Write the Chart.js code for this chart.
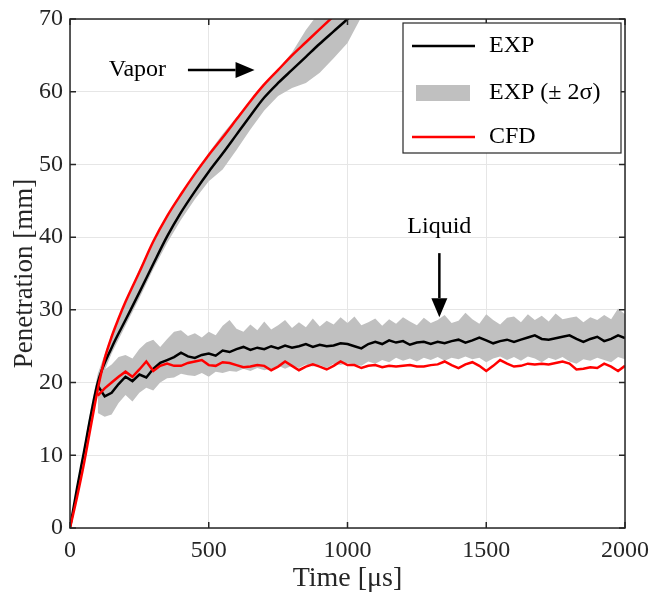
<!DOCTYPE html>
<html>
<head>
<meta charset="utf-8">
<script src="https://cdn.jsdelivr.net/npm/chart.js@4.4.0/dist/chart.umd.min.js"></script>
<style>
    html, body { margin: 0; padding: 0; background: #fff; }
    #wrap { width: 651px; height: 596px; }
</style>
</head>
<body>
<div id="wrap"><canvas id="chart" width="651" height="596"></canvas></div>
<script>
// vapor penetration, experiment (time in us, penetration in mm)
const vaporT = [0, 25, 50, 75, 100, 150, 200, 250, 300, 350, 400, 450, 500, 550, 600, 650, 700, 750, 800, 850, 900, 950, 1000, 1050];
const vaporExp = [0, 5.4, 10.4, 15.5, 20, 24.8, 28.6, 32.4, 36.3, 40.1, 43.4, 46.3, 49, 51.5, 54.1, 56.7, 59.2, 61.2, 63, 64.8, 66.6, 68.3, 70, 71.8];
const vaporExpHi = [0, 5.8, 11, 16.5, 21.2, 26.6, 31, 35.6, 39.4, 42.9, 46, 48.7, 51.6, 54.2, 56.5, 58.7, 60.9, 63.1, 65.4, 68.5, 71, 73, 75, 77];
const vaporExpLo = [0, 5, 9.9, 14.9, 19.3, 24, 27.8, 31.6, 35.6, 39.2, 42.4, 45.2, 47.7, 49.3, 52, 54.8, 57.4, 59.4, 60.5, 61.2, 62.6, 64.6, 66.7, 70.3];

// vapor penetration, CFD
const cfdVaporT = [0, 25, 50, 75, 105, 125, 150, 175, 200, 250, 300, 350, 400, 450, 500, 550, 600, 650, 700, 750, 800, 850, 900, 950, 1000];
const cfdVapor = [0, 4.2, 8.8, 14, 20, 23.3, 26.3, 28.8, 31.1, 35.2, 39.4, 42.9, 45.9, 48.7, 51.3, 53.7, 56.2, 58.7, 61, 63, 65, 66.8, 68.6, 70.4, 72.2];

// liquid penetration
const liquidT = [
    100, 125, 150, 175, 200, 225, 250, 275,
    300, 325, 350, 375, 400, 425, 450, 475,
    500, 525, 550, 575, 600, 625, 650, 675,
    700, 725, 750, 775, 800, 825, 850, 875,
    900, 925, 950, 975, 1000, 1025, 1050, 1075,
    1100, 1125, 1150, 1175, 1200, 1225, 1250, 1275,
    1300, 1325, 1350, 1375, 1400, 1425, 1450, 1475,
    1500, 1525, 1550, 1575, 1600, 1625, 1650, 1675,
    1700, 1725, 1750, 1775, 1800, 1825, 1850, 1875,
    1900, 1925, 1950, 1975, 2000
];
const liquidExp = [
    19.6, 18.1, 18.6, 19.8, 20.8, 20.2, 21.1, 20.7,
    21.9, 22.7, 23.1, 23.5, 24.1, 23.6, 23.4, 23.8,
    24.0, 23.7, 24.4, 24.2, 24.6, 24.9, 24.5, 24.8,
    24.6, 25.0, 24.7, 25.1, 24.8, 25.0, 25.3, 24.9,
    25.2, 25.0, 25.1, 25.4, 25.3, 25.0, 24.7, 25.3,
    25.6, 25.3, 25.8, 25.5, 25.7, 25.2, 25.5, 25.6,
    25.3, 25.6, 25.4, 25.7, 25.9, 25.5, 25.8, 26.2,
    25.8, 25.4, 25.7, 25.9, 25.6, 25.9, 26.2, 26.5,
    26.0, 25.9, 26.1, 26.3, 26.5, 26.0, 25.6, 26.0,
    26.3, 25.7, 26.0, 26.5, 26.1
];
const liquidCfd = [
    18.2, 19.2, 20.0, 20.8, 21.5, 20.8, 21.8, 22.9,
    21.6, 22.3, 22.6, 22.3, 22.3, 22.7, 22.9, 23.1,
    22.4, 22.3, 22.8, 22.7, 22.4, 22.1, 22.2, 22.4,
    22.3, 21.7, 22.2, 22.9, 22.3, 21.7, 22.2, 22.5,
    22.2, 21.8, 22.3, 22.9, 22.4, 22.4, 22.0, 22.3,
    22.4, 22.1, 22.3, 22.2, 22.3, 22.4, 22.2, 22.2,
    22.4, 22.5, 22.9, 22.4, 22.0, 22.5, 22.8, 22.3,
    21.6, 22.3, 23.1, 22.6, 22.2, 22.3, 22.6, 22.5,
    22.6, 22.5, 22.7, 22.9, 22.6, 21.8, 21.9, 22.1,
    22.0, 22.6, 22.2, 21.6, 22.3
];
const liquidExpHi = [
    20.5, 21.8, 22.5, 23.5, 23.8, 23.3, 24.6, 25.5,
    25.9, 24.9, 26.0, 27.0, 27.2, 26.4, 26.8, 26.2,
    27.0, 26.5, 27.8, 28.6, 27.4, 27.0, 28.0, 27.2,
    28.4, 27.3, 27.9, 28.6, 27.5, 28.3, 27.6, 28.8,
    27.7, 28.5, 28.0, 29.0, 28.2, 29.1, 27.9, 28.3,
    28.8, 27.8, 28.7, 28.1, 29.0, 28.4, 27.9, 28.9,
    28.2, 28.6, 29.3, 28.2, 28.5, 29.6, 28.7, 28.1,
    29.4, 28.6, 28.0, 28.9, 29.1, 28.3, 29.4, 28.6,
    29.2, 28.4, 29.5, 28.7, 28.9, 29.1, 28.3, 29.0,
    28.6, 29.3, 28.7, 30.2, 29.4
];
const liquidExpLo = [
    15.8, 15.3, 15.6, 17.2, 18.3, 17.4, 18.6, 19.3,
    18.9, 20.0, 20.6, 20.7, 21.2, 21.0, 20.9, 21.3,
    20.8, 21.5, 21.3, 21.6, 21.5, 21.9, 21.6, 22.0,
    21.7, 21.9, 22.3, 21.9, 22.3, 22.0, 22.5, 22.2,
    22.4, 22.0, 22.6, 22.4, 22.7, 22.5, 22.3, 22.9,
    22.6, 23.1, 22.8, 23.4, 23.0, 23.3, 22.9, 23.4,
    23.1, 23.5, 23.0, 23.4, 23.2, 23.6, 23.2, 23.4,
    22.8, 23.3, 23.6, 23.1, 23.5, 23.0, 23.6, 23.3,
    22.8, 23.4, 23.1, 23.5, 22.9, 22.6, 23.2, 23.0,
    23.4, 23.1, 22.8, 23.5, 23.2
];

const xTicks = [0, 500, 1000, 1500, 2000];
const yTicks = [0, 10, 20, 30, 40, 50, 60, 70];
const legendLabels = ['EXP', 'EXP (\u00b1 2\u03c3)', 'CFD'];

const BAND = 'rgb(192,192,192)';
const RED = '#ff0000';
const SERIF = "'Liberation Serif', 'Times New Roman', serif";

function pts(xs, ys) {
    return xs.map((x, i) => ({ x: x, y: ys[i] }));
}

// MATLAB-like box with inward ticks on all four sides
const boxPlugin = {
    id: 'box',
    afterDatasetsDraw(chart) {
        const { ctx, chartArea: a, scales } = chart;
        ctx.save();
        ctx.strokeStyle = '#262626';
        ctx.lineWidth = 1.5;
        ctx.strokeRect(a.left, a.top, a.right - a.left, a.bottom - a.top);
        ctx.beginPath();
        xTicks.forEach(v => {
            const px = scales.x.getPixelForValue(v);
            ctx.moveTo(px, a.bottom); ctx.lineTo(px, a.bottom - 6);
            ctx.moveTo(px, a.top); ctx.lineTo(px, a.top + 6);
        });
        yTicks.forEach(v => {
            const py = scales.y.getPixelForValue(v);
            ctx.moveTo(a.left, py); ctx.lineTo(a.left + 6, py);
            ctx.moveTo(a.right, py); ctx.lineTo(a.right - 6, py);
        });
        ctx.stroke();
        ctx.restore();
    }
};

// text labels with arrows, placed in data units
function arrow(ctx, x0, y0, x1, y1) {
    const ang = Math.atan2(y1 - y0, x1 - x0);
    const head = 19, half = 8;
    const bx = x1 - head * Math.cos(ang), by = y1 - head * Math.sin(ang);
    ctx.beginPath();
    ctx.moveTo(x0, y0);
    ctx.lineTo(bx, by);
    ctx.stroke();
    ctx.beginPath();
    ctx.moveTo(x1, y1);
    ctx.lineTo(bx + half * Math.sin(ang), by - half * Math.cos(ang));
    ctx.lineTo(bx - half * Math.sin(ang), by + half * Math.cos(ang));
    ctx.closePath();
    ctx.fill();
}

const notePlugin = {
    id: 'notes',
    afterDraw(chart) {
        const { ctx, scales } = chart;
        const X = v => scales.x.getPixelForValue(v);
        const Y = v => scales.y.getPixelForValue(v);
        ctx.save();
        ctx.fillStyle = '#000';
        ctx.strokeStyle = '#000';
        ctx.lineWidth = 2.5;
        ctx.font = '24px ' + SERIF;
        ctx.textAlign = 'center';
        ctx.textBaseline = 'middle';
        ctx.fillText('Vapor', X(243), Y(63));
        arrow(ctx, X(425), Y(63), X(665), Y(63));
        ctx.fillText('Liquid', X(1331), Y(41.4));
        arrow(ctx, X(1331), Y(37.8), X(1331), Y(29));

        // legend box in the upper right corner
        const a = chart.chartArea;
        const bx = a.right - 222, by = a.top + 4, bw = 218, bh = 130;
        ctx.fillStyle = '#fff';
        ctx.fillRect(bx, by, bw, bh);
        ctx.lineWidth = 1.2;
        ctx.strokeStyle = '#262626';
        ctx.strokeRect(bx, by, bw, bh);
        const rows = [by + 23, by + 70, by + 114];
        ctx.lineWidth = 2.5;
        ctx.strokeStyle = '#000';
        ctx.beginPath(); ctx.moveTo(bx + 9, rows[0]); ctx.lineTo(bx + 72, rows[0]); ctx.stroke();
        ctx.fillStyle = BAND;
        ctx.fillRect(bx + 13, rows[1] - 8, 54, 16);
        ctx.strokeStyle = RED;
        ctx.beginPath(); ctx.moveTo(bx + 9, rows[2]); ctx.lineTo(bx + 72, rows[2]); ctx.stroke();
        ctx.fillStyle = '#000';
        ctx.textAlign = 'left';
        legendLabels.forEach((t, i) => ctx.fillText(t, bx + 86, rows[i]));
        ctx.restore();
    }
};

const line = (data, color, smooth) => ({
    data: data,
    borderColor: color,
    borderWidth: 2.5,
    pointRadius: 0,
    fill: false,
    tension: 0,
    cubicInterpolationMode: smooth ? 'monotone' : 'default'
});

const band = (data, fill) => ({
    data: data,
    borderWidth: 0,
    borderColor: 'rgba(0,0,0,0)',
    backgroundColor: BAND,
    pointRadius: 0,
    tension: 0,
    fill: fill
});

new Chart(document.getElementById('chart'), {
    type: 'line',
    data: {
        datasets: [
            line(pts(cfdVaporT, cfdVapor), RED, true),
            line(pts(liquidT, liquidCfd), RED, false),
            line(pts(vaporT, vaporExp), '#000', true),
            line(pts(liquidT, liquidExp), '#000', false),
            band(pts(vaporT, vaporExpHi), '+1'),
            band(pts(vaporT, vaporExpLo), false),
            band(pts(liquidT, liquidExpHi), '+1'),
            band(pts(liquidT, liquidExpLo), false)
        ]
    },
    options: {
        responsive: false,
        animation: false,
        layout: { padding: { top: 19, right: 26, left: 0, bottom: 0 } },
        plugins: {
            legend: { display: false },
            tooltip: { enabled: false },
            filler: { propagate: false, drawTime: 'beforeDatasetsDraw' }
        },
        scales: {
            x: {
                type: 'linear',
                min: 0,
                max: 2000,
                afterFit: s => { s.height = 68; s.paddingLeft = 0; s.paddingRight = 0; },
                afterBuildTicks: s => { s.ticks = xTicks.map(v => ({ value: v })); },
                ticks: { padding: 8, color: '#262626', maxRotation: 0, font: { family: SERIF, size: 24 }, callback: v => String(v) },
                grid: { color: '#e6e6e6', drawTicks: false },
                border: { display: false },
                title: {
                    display: true,
                    text: 'Time [\u03bcs]',
                    color: '#262626',
                    font: { family: SERIF, size: 28 },
                    padding: { top: 0, bottom: 1 }
                }
            },
            y: {
                type: 'linear',
                min: 0,
                max: 70,
                afterFit: s => { s.width = 70; s.paddingTop = 0; s.paddingBottom = 0; },
                afterBuildTicks: s => { s.ticks = yTicks.map(v => ({ value: v })); },
                ticks: { padding: 7, color: '#262626', font: { family: SERIF, size: 24 }, callback: v => String(v) },
                grid: { color: '#e6e6e6', drawTicks: false },
                border: { display: false },
                title: {
                    display: true,
                    text: 'Penetration [mm]',
                    color: '#262626',
                    font: { family: SERIF, size: 27 },
                    padding: { top: 9, bottom: 0 }
                }
            }
        }
    },
    plugins: [boxPlugin, notePlugin]
});
</script>
</body>
</html>
